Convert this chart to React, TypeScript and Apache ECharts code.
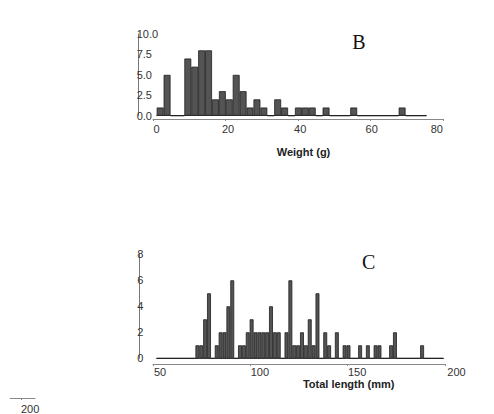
import React, { useEffect, useRef } from "react";
import * as echarts from "echarts";

// Panel B: weight histogram, 39 bins starting at 0 g
const weightCounts = [
  1, 5, 0, 0, 7, 6, 8, 8, 2, 3, 2, 5, 3, 1, 2, 1, 0, 2, 1, 0,
  1, 1, 1, 0, 1, 0, 0, 0, 1, 0, 0, 0, 0, 0, 0, 1, 0, 0, 0,
];
const weightTicks = [0, 20, 40, 60, 80];
const weightCountTicks = [0, 2.5, 5, 7.5, 10];

// Panel C: total length histogram, 74 bins across the plotted range
const lengthCounts = [
  0, 0, 0, 0, 0, 0, 0, 0, 0, 0,
  1, 1, 3, 5, 0, 1, 2, 2, 4, 6,
  0, 1, 1, 2, 3, 2, 2, 2, 2, 4,
  2, 2, 0, 2, 6, 1, 1, 2, 1, 3,
  1, 5, 0, 2, 1, 0, 2, 0, 1, 1,
  0, 0, 1, 0, 1, 0, 1, 1, 0, 0,
  1, 2, 0, 0, 0, 0, 0, 0, 1, 0,
  0, 0, 0, 0,
];
const lengthTicks = [50, 100, 150, 200];
const lengthCountTicks = [0, 2, 4, 6, 8];

// Edge of the neighbouring panel's length axis
const fragmentTicks = [200];

const SANS = "'Liberation Sans', Arial, Helvetica, sans-serif";
const SERIF = "'Liberation Serif', 'Times New Roman', serif";
const LABEL = "#333";

// per-label horizontal nudges (px) for the numeric axes
const weightShift: Record<number, [number, number]> = {
  0: [7, 0], 20: [5, 0], 40: [4, 0], 60: [2, 0], 80: [0, 13],
};
const lengthShift: Record<number, [number, number]> = {
  50: [14, 0], 100: [19, 0], 150: [19, 0], 200: [23, 0],
};

function richFor(ticks: number[], shift: Record<number, [number, number]>) {
  const rich: Record<string, any> = {};
  ticks.forEach((t) => {
    const [l, r] = shift[t] || [0, 0];
    rich["t" + String(t).replace(".", "_")] = {
      fontSize: 11,
      fontFamily: SANS,
      color: LABEL,
      lineHeight: 11,
      padding: [0, r, 0, l],
    };
  });
  return rich;
}

const hiddenY = (gridIndex: number) => ({
  type: "value",
  gridIndex,
  show: false,
  min: 0,
  max: 1,
});

export default function App() {
  const ref = useRef<HTMLDivElement>(null);

  useEffect(() => {
    if (!ref.current) return;
    const chart = echarts.init(ref.current, null, { renderer: "svg" });

    const barStyle = {
      color: "#545454",
      borderColor: "#1e1e1e",
      borderWidth: 0.8,
    };

    chart.setOption({
      animation: false,
      backgroundColor: "#ffffff",
      textStyle: { fontFamily: SANS },
      grid: [
        { left: 156.7, top: 34, width: 269.6, height: 81.7 },
        { left: 153, top: 60, width: 290.3, height: 59 },
        { left: 156.7, top: 254.3, width: 286.7, height: 104 },
        { left: 153, top: 300, width: 292, height: 64 },
        { left: 0, top: 380, width: 35, height: 18.3 },
      ],
      xAxis: [
        {
          type: "category",
          gridIndex: 0,
          data: weightCounts.map((_, i) => String(i)),
          axisLine: { show: true, onZero: false, lineStyle: { color: "#444", width: 1 } },
          axisTick: { show: false },
          axisLabel: { show: false },
        },
        {
          type: "value",
          gridIndex: 1,
          min: weightTicks[0],
          max: weightTicks[weightTicks.length - 1],
          interval: 20,
          axisLine: { show: true, onZero: false, lineStyle: { color: "#888", width: 1 } },
          axisTick: { show: true, length: 2, lineStyle: { color: "#888" } },
          splitLine: { show: false },
          axisLabel: {
            margin: 4,
            formatter: (v: number) => `{t${v}|${v}}`,
            rich: richFor(weightTicks, weightShift),
          },
        },
        {
          type: "category",
          gridIndex: 2,
          data: lengthCounts.map((_, i) => String(i)),
          axisLine: { show: true, onZero: false, lineStyle: { color: "#444", width: 1 } },
          axisTick: { show: false },
          axisLabel: { show: false },
        },
        {
          type: "value",
          gridIndex: 3,
          min: lengthTicks[0],
          max: lengthTicks[lengthTicks.length - 1],
          interval: 50,
          axisLine: { show: true, onZero: false, lineStyle: { color: "#888", width: 1 } },
          axisTick: { show: true, length: 2, lineStyle: { color: "#888" } },
          splitLine: { show: false },
          axisLabel: {
            margin: 2.5,
            formatter: (v: number) => `{t${v}|${v}}`,
            rich: richFor(lengthTicks, lengthShift),
          },
        },
        {
          type: "value",
          gridIndex: 4,
          min: 192,
          max: 210,
          axisLine: { show: true, onZero: false, lineStyle: { color: "#888", width: 1 } },
          axisTick: { show: true, length: 2, customValues: fragmentTicks, lineStyle: { color: "#888" } },
          splitLine: { show: false },
          axisLabel: {
            margin: 5,
            customValues: fragmentTicks,
            formatter: (v: number) => `{t${v}|${v}}`,
            rich: richFor(fragmentTicks, { 200: [18, 0] }),
          },
        },
      ],
      yAxis: [
        {
          type: "value",
          gridIndex: 0,
          min: weightCountTicks[0],
          max: weightCountTicks[weightCountTicks.length - 1],
          interval: 2.5,
          offset: 18.4,
          axisLine: { show: true, lineStyle: { color: "#777", width: 1 } },
          axisTick: { show: false },
          splitLine: { show: false },
          axisLabel: {
            align: "left",
            margin: 1.6,
            fontSize: 11,
            fontFamily: SANS,
            color: LABEL,
            formatter: (v: number) => v.toFixed(1),
          },
        },
        hiddenY(1),
        {
          type: "value",
          gridIndex: 2,
          min: lengthCountTicks[0],
          max: lengthCountTicks[lengthCountTicks.length - 1],
          interval: 2,
          offset: 17.7,
          axisLine: { show: true, lineStyle: { color: "#777", width: 1 } },
          axisTick: { show: false },
          splitLine: { show: false },
          axisLabel: {
            align: "left",
            margin: 1.8,
            fontSize: 11,
            fontFamily: SANS,
            color: LABEL,
          },
        },
        hiddenY(3),
        hiddenY(4),
      ],
      series: [
        {
          type: "bar",
          xAxisIndex: 0,
          yAxisIndex: 0,
          data: weightCounts,
          barCategoryGap: "0%",
          itemStyle: barStyle,
        },
        {
          type: "bar",
          xAxisIndex: 2,
          yAxisIndex: 2,
          data: lengthCounts,
          barCategoryGap: "0%",
          itemStyle: barStyle,
        },
      ],
      graphic: [
        {
          type: "text",
          style: {
            text: "B", x: 359, y: 42,
            align: "center", verticalAlign: "middle",
            textAlign: "center", textVerticalAlign: "middle",
            font: `20px ${SERIF}`, fill: "#111",
          },
        },
        {
          type: "text",
          style: {
            text: "C", x: 368.7, y: 262,
            align: "center", verticalAlign: "middle",
            textAlign: "center", textVerticalAlign: "middle",
            font: `20px ${SERIF}`, fill: "#111",
          },
        },
        {
          type: "text",
          style: {
            text: "Weight (g)", x: 303.5, y: 152,
            align: "center", verticalAlign: "middle",
            textAlign: "center", textVerticalAlign: "middle",
            font: `bold 11px ${SANS}`, fill: "#222",
          },
        },
        {
          type: "text",
          style: {
            text: "Total length (mm)", x: 348.7, y: 383.5,
            align: "center", verticalAlign: "middle",
            textAlign: "center", textVerticalAlign: "middle",
            font: `bold 11px ${SANS}`, fill: "#222",
          },
        },
      ],
    });

    return () => chart.dispose();
  }, []);

  return (
    <div
      ref={ref}
      style={{ position: "fixed", left: 0, top: 0, width: 494, height: 414, background: "#fff" }}
    />
  );
}
